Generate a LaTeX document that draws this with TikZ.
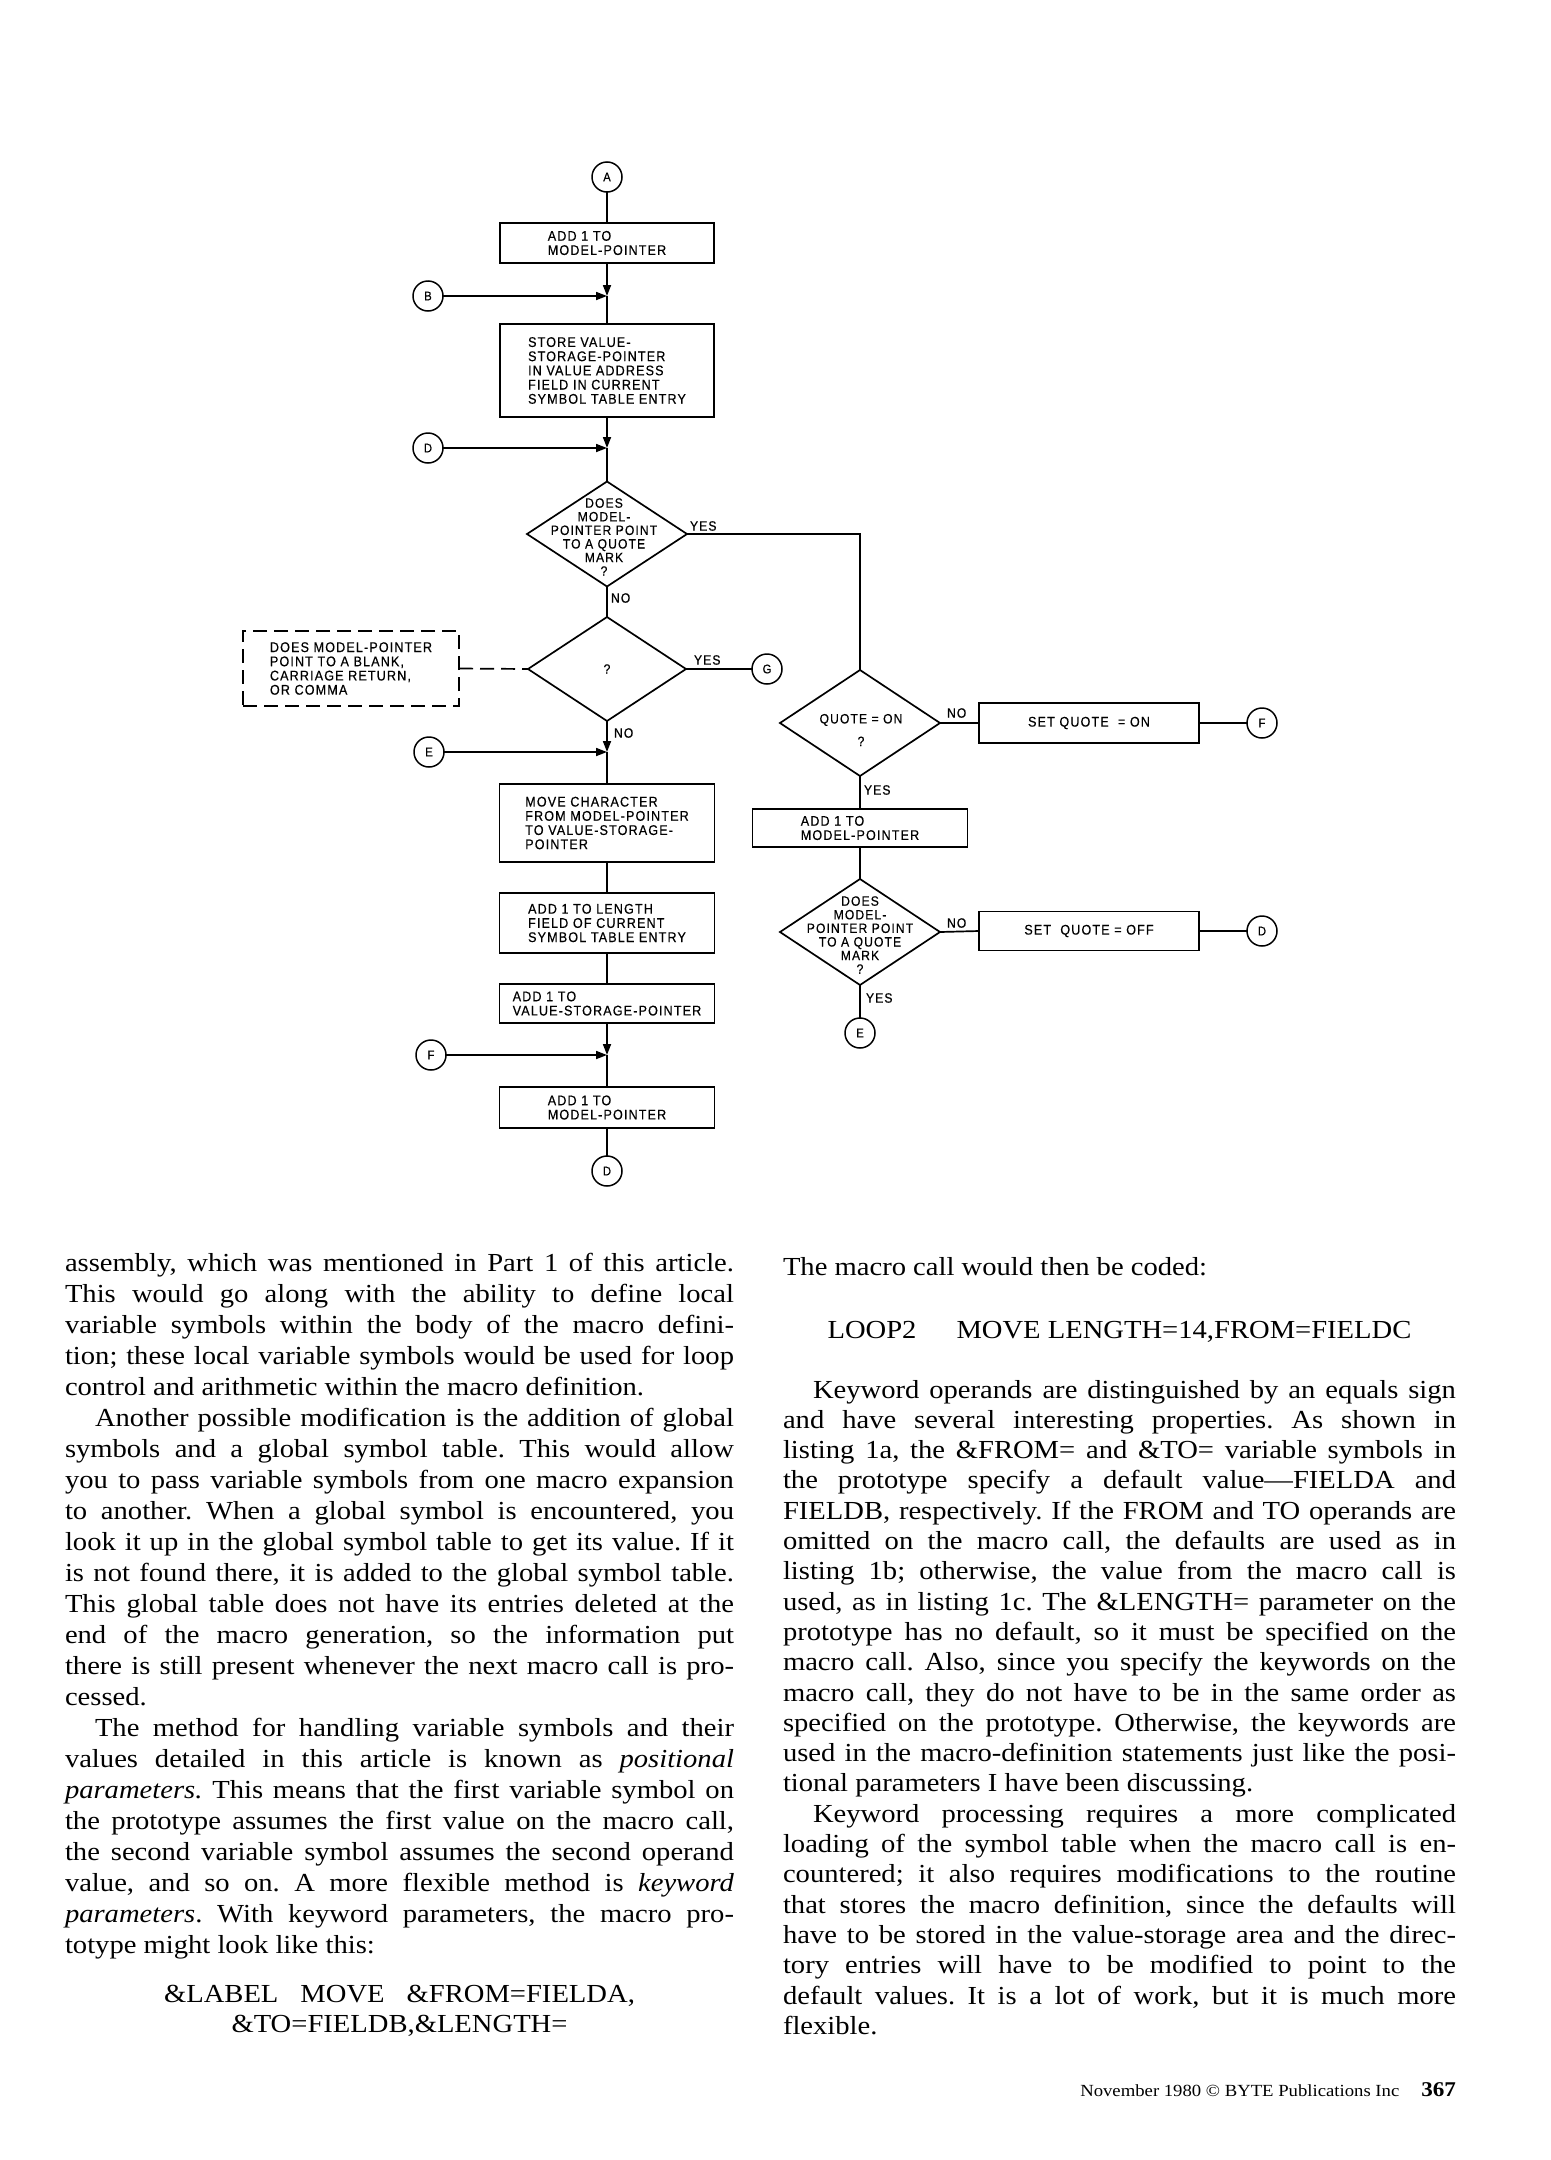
\documentclass[tikz,border=0pt]{standalone}
\usepackage{fontspec}
\setmainfont[FakeStretch=1.1]{Liberation Serif}
\newfontfamily\fcf[LetterSpace=8,FakeStretch=0.9,FakeBold=0.4]{Liberation Sans}
\usetikzlibrary{shapes.geometric,arrows.meta}
\newcommand\jusl[1]{\hbox to\hsize{#1}}
\newcommand\lefl[1]{\hbox to\hsize{#1\hfil}}
\newcommand\cenl[1]{\hbox to\hsize{\hfil#1\hfil}}
\newcommand\indl{\kern30pt}
\frenchspacing
\begin{document}
\begin{tikzpicture}[x=1pt,y=-1pt,
  every node/.style={inner sep=0pt,outer sep=0pt},
  ln/.style={line width=1.7pt},
  box/.style={draw,line width=1.7pt,align=left,font=\fcf\fontsize{14}{14.2}\selectfont},
  cnode/.style={draw,circle,line width=1.5pt,minimum size=30pt,font=\fcf\fontsize{12.5}{12.5}\selectfont},
  dia/.style={draw,diamond,line width=1.7pt,minimum width=160pt,minimum height=105pt},
  dtext/.style={align=center,font=\fcf\fontsize{13.5}{13.6}\selectfont},
  lab/.style={anchor=west,font=\fcf\fontsize{13.5}{13.5}\selectfont},
  arr/.style={-{Triangle[length=11pt,width=8pt]}},
  dsh/.style={dash pattern=on 14pt off 7pt}
]
\useasboundingbox[fill=white] (0,0) rectangle (1550,2160);

% ---------- main column ----------
\node[cnode] (A) at (607,177) {A};
\node[box,minimum width=214pt,minimum height=40pt] (b1) at (607,243) {ADD 1 TO\\MODEL-POINTER};
\node[cnode] (B) at (428,296) {B};
\coordinate (j1) at (607,296);
\node[box,minimum width=214pt,minimum height=93pt] (b2) at (607,370.5) {STORE VALUE-\\STORAGE-POINTER\\IN VALUE ADDRESS\\FIELD IN CURRENT\\SYMBOL TABLE ENTRY};
\node[cnode] (D1) at (428,448) {D};
\coordinate (j2) at (607,448);
\node[dia] (d1) at (607,534) {};
\node[dtext] (d1t) at (604,537) {DOES\\MODEL-\\POINTER POINT\\TO A QUOTE\\MARK\\?};
\node[lab] (yes1) at (690,526) {YES};
\node[lab] (no1) at (611,598) {NO};
\node[dia,minimum width=158pt,minimum height=104pt] (d2) at (607,669) {};
\node[dtext] (q2) at (607,669) {?};
\node[lab] (yes2) at (694,660) {YES};
\node[cnode] (G) at (767,669) {G};
\node[box,dsh,minimum width=216pt,minimum height=75pt] (dash) at (351,668.5) {DOES MODEL-POINTER\\POINT TO A BLANK,\\CARRIAGE RETURN,\\OR COMMA};
\node[lab] (no2) at (614,733) {NO};
\node[cnode] (E1) at (429,752) {E};
\coordinate (j3) at (607,752);
\node[box,minimum width=215pt,minimum height=78pt] (b3) at (607,823) {MOVE CHARACTER\\FROM MODEL-POINTER\\TO VALUE-STORAGE-\\POINTER};
\node[box,minimum width=215pt,minimum height=60pt] (b4) at (607,923) {ADD 1 TO LENGTH\\FIELD OF CURRENT\\SYMBOL TABLE ENTRY};
\node[box,minimum width=215pt,minimum height=39pt] (b5) at (607,1003.5) {ADD 1 TO\\VALUE-STORAGE-POINTER};
\node[cnode] (F1) at (431,1055) {F};
\coordinate (j4) at (607,1055);
\node[box,minimum width=215pt,minimum height=41pt] (b6) at (607,1107.5) {ADD 1 TO\\MODEL-POINTER};
\node[cnode] (D2) at (607,1171) {D};

% ---------- right column ----------
\node[dia,minimum height=106pt] (d3) at (860,723) {};
\node[dtext] (d3t) at (861,730) {QUOTE = ON\\[9pt]?};
\node[lab] (no3) at (947,713) {NO};
\node[box,align=center,minimum width=220pt,minimum height=40pt] (son) at (1089,723) {SET QUOTE \ = ON};
\node[cnode] (F2) at (1262,723) {F};
\node[lab] (yes3) at (864,790) {YES};
\node[box,minimum width=215pt,minimum height=38pt] (b7) at (860,828) {ADD 1 TO\\MODEL-POINTER};
\node[dia,minimum height=106pt] (d4) at (860,932) {};
\node[dtext] (d4t) at (860,935) {DOES\\MODEL-\\POINTER POINT\\TO A QUOTE\\MARK\\?};
\node[lab] (no4) at (947,923) {NO};
\node[box,align=center,minimum width=220pt,minimum height=39pt] (soff) at (1089,931) {SET \ QUOTE = OFF};
\node[cnode] (D3) at (1262,931) {D};
\node[lab] (yes4) at (866,998) {YES};
\node[cnode] (E2) at (860,1033) {E};

% ---------- connectors ----------
\draw[ln] (A) -- (b1);
\draw[ln,arr] (b1) -- (j1);
\draw[ln,arr] (B) -- (j1);
\draw[ln] (j1) -- (b2);
\draw[ln,arr] (b2) -- (j2);
\draw[ln,arr] (D1) -- (j2);
\draw[ln] (j2) -- (d1.north);
\draw[ln] (d1.east) -| (d3.north);
\draw[ln] (d1.south) -- (d2.north);
\draw[ln,dsh] (dash.east) -- (d2.west);
\draw[ln] (d2.east) -- (G);
\draw[ln,arr] (d2.south) -- (j3);
\draw[ln,arr] (E1) -- (j3);
\draw[ln] (j3) -- (b3);
\draw[ln] (b3) -- (b4);
\draw[ln] (b4) -- (b5);
\draw[ln,arr] (b5) -- (j4);
\draw[ln,arr] (F1) -- (j4);
\draw[ln] (j4) -- (b6);
\draw[ln] (b6) -- (D2);
\draw[ln] (d3.east) -- (son.west);
\draw[ln] (son.east) -- (F2);
\draw[ln] (d3.south) -- (b7);
\draw[ln] (b7) -- (d4.north);
\draw[ln] (d4.east) -- (soff.west);
\draw[ln] (soff.east) -- (D3);
\draw[ln] (d4.south) -- (E2);

% ---------- text columns ----------
\node[anchor=base west] (lbody) at (65,1271) {\parbox[t]{669pt}{\fontsize{26}{31}\selectfont
\jusl{assembly, which was mentioned in Part 1 of this article.}
\jusl{This would go along with the ability to define local}
\jusl{variable symbols within the body of the macro defini-}
\jusl{tion; these local variable symbols would be used for loop}
\lefl{control and arithmetic within the macro definition.}
\jusl{\indl Another possible modification is the addition of global}
\jusl{symbols and a global symbol table. This would allow}
\jusl{you to pass variable symbols from one macro expansion}
\jusl{to another. When a global symbol is encountered, you}
\jusl{look it up in the global symbol table to get its value. If it}
\jusl{is not found there, it is added to the global symbol table.}
\jusl{This global table does not have its entries deleted at the}
\jusl{end of the macro generation, so the information put}
\jusl{there is still present whenever the next macro call is pro-}
\lefl{cessed.}
\jusl{\indl The method for handling variable symbols and their}
\jusl{values detailed in this article is known as \textit{positional}}
\jusl{\textit{parameters.} This means that the first variable symbol on}
\jusl{the prototype assumes the first value on the macro call,}
\jusl{the second variable symbol assumes the second operand}
\jusl{value, and so on. A more flexible method is \textit{keyword}}
\jusl{\textit{parameters}. With keyword parameters, the macro pro-}
\lefl{totype might look like this:}}};
\node[anchor=base west] (lcode) at (65,2002) {\parbox[t]{669pt}{\fontsize{26}{30}\selectfont
\cenl{\&LABEL\hspace{22pt}MOVE\hspace{22pt}\&FROM=FIELDA,}
\cenl{\&TO=FIELDB,\&LENGTH=}}};

\node[anchor=base west] (rhead) at (783,1275) {\parbox[t]{673pt}{\fontsize{26}{31}\selectfont
\lefl{The macro call would then be coded:}}};
\node[anchor=base west] (rcode) at (783,1338) {\parbox[t]{673pt}{\fontsize{26}{31}\selectfont
\cenl{LOOP2\hspace{40pt}MOVE LENGTH=14,FROM=FIELDC}}};
\node[anchor=base west] (rbody) at (783,1398) {\parbox[t]{673pt}{\fontsize{26}{30.3}\selectfont
\jusl{\indl Keyword operands are distinguished by an equals sign}
\jusl{and have several interesting properties. As shown in}
\jusl{listing 1a, the \&FROM= and \&TO= variable symbols in}
\jusl{the prototype specify a default value—FIELDA and}
\jusl{FIELDB, respectively. If the FROM and TO operands are}
\jusl{omitted on the macro call, the defaults are used as in}
\jusl{listing 1b; otherwise, the value from the macro call is}
\jusl{used, as in listing 1c. The \&LENGTH= parameter on the}
\jusl{prototype has no default, so it must be specified on the}
\jusl{macro call. Also, since you specify the keywords on the}
\jusl{macro call, they do not have to be in the same order as}
\jusl{specified on the prototype. Otherwise, the keywords are}
\jusl{used in the macro-definition statements just like the posi-}
\lefl{tional parameters I have been discussing.}
\jusl{\indl Keyword processing requires a more complicated}
\jusl{loading of the symbol table when the macro call is en-}
\jusl{countered; it also requires modifications to the routine}
\jusl{that stores the macro definition, since the defaults will}
\jusl{have to be stored in the value-storage area and the direc-}
\jusl{tory entries will have to be modified to point to the}
\jusl{default values. It is a lot of work, but it is much more}
\lefl{flexible.}}};

\node[anchor=base east] (foot) at (1456,2096) {\fontsize{17}{17}\selectfont November 1980 © BYTE Publications Inc\hspace{22pt}{\bfseries\fontsize{21}{21}\selectfont 367}};
\end{tikzpicture}
\end{document}
